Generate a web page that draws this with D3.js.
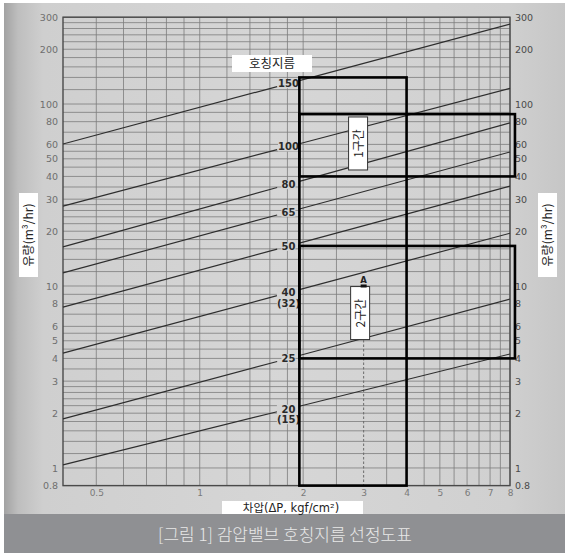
<!DOCTYPE html>
<html><head><meta charset="utf-8">
<script src="https://cdn.jsdelivr.net/npm/d3@7"></script>
<style>html,body{margin:0;padding:0;background:#fff;}svg{display:block;}</style>
</head><body><svg id="c" width="565" height="555"></svg>
<script>
// ---- data ----
const sizeLabels = ["150", "100", "80", "65", "50", "40", "25", "20"];
const sizeSubLabels = ["", "", "", "", "", "(32)", "", "(15)"];
const flowAtMinDp = [60.3, 27.5, 16.4, 11.8, 7.66, 4.28, 1.86, 1.04];   // Q at ΔP = 0.4
const flowAtMaxDp = [275, 122, 78.7, 54.5, 35.4, 19.5, 8.48, 4.23];     // Q at ΔP = 8
const dpDomain = [0.4, 8];
const flowDomain = [0.8, 300];
const xTickValues = [0.5, 1, 2, 3, 4, 5, 6, 7, 8];
const yTickValues = [0.8, 1, 2, 3, 4, 5, 6, 8, 10, 20, 30, 40, 50, 60, 80, 100, 200, 300];
const xGridValues = [0.5, 0.6, 0.7, 0.8, 0.9, 1, 1.2, 1.4, 1.6, 1.8, 2, 2.5, 3.5, 4, 4.5, 5, 5.5, 6, 6.5, 7, 7.5, 8];
const yGridValues = [0.8, 1, 1.2, 1.4, 1.6, 1.8, 2, 2.2, 2.4, 2.6, 2.8, 3, 3.5, 4, 4.5, 5, 5.5, 6, 7, 8, 9,
  10, 12, 14, 16, 18, 20, 22, 24, 26, 28, 30, 35, 40, 45, 50, 55, 60, 70, 80, 90,
  100, 120, 140, 160, 180, 200, 220, 240, 260, 280, 300];
const labelDp = 1.8;               // where size labels sit
const lineGap = [1.68, 1.95];      // lines interrupted around the labels
const zoneA = { dp: [1.95, 4], q: [0.8, 140] };
const zones = [
  { label: "1구간", dp: [1.95, 8.27], q: [40, 88], labelAt: [2.89, 60.7] },
  { label: "2구간", dp: [1.95, 8.27], q: [4, 16.6], labelAt: [2.93, 7.1] }
];
const pointA = { name: "A", dp: 3, q: 10 };
const title = "호칭지름";
const xTitle = "차압(ΔP, kgf/cm²)";
const yTitle = "유량(m³/hr)";
const caption = "[그림 1] 감압밸브 호칭지름 선정도표";

// ---- drawing ----
const svg = d3.select("#c");
const W = 565, H = 555;
const defs = svg.append("defs");
const g1 = defs.append("linearGradient").attr("id", "bg").attr("x1", 0).attr("x2", 1).attr("y1", 0).attr("y2", 0);
[[0, "#a2a2a2"], [0.025, "#bebebe"], [0.07, "#cfcfcf"], [0.5, "#d6d6d6"], [0.9, "#d0d0d0"], [1, "#c6c6c6"]]
  .forEach(([o, c]) => g1.append("stop").attr("offset", o).attr("stop-color", c));

svg.append("rect").attr("x", 4).attr("y", 3).attr("width", W - 4).attr("height", 511).attr("fill", "url(#bg)");
svg.append("rect").attr("x", 4).attr("y", 514).attr("width", W - 4).attr("height", 39).attr("fill", "#8f9093");

const x = d3.scaleLog().domain(dpDomain).range([63, 510]);
const y = d3.scaleLog().domain(flowDomain).range([485.6, 17.2]);
const [x0, x1] = x.range();
const [yb, yt] = y.range();

const plot = svg.append("g");

// grid
plot.append("g").selectAll("line").data(yGridValues).join("line")
  .attr("x1", x0).attr("x2", x1).attr("y1", d => y(d)).attr("y2", d => y(d))
  .attr("stroke", "#7c7c7c").attr("stroke-width", 0.8);
plot.append("g").selectAll("line").data(xGridValues).join("line")
  .attr("x1", d => x(d)).attr("x2", d => x(d)).attr("y1", yt).attr("y2", yb)
  .attr("stroke", "#7c7c7c").attr("stroke-width", 0.8);
plot.append("rect").attr("x", x0).attr("y", yt).attr("width", x1 - x0).attr("height", yb - yt)
  .attr("fill", "none").attr("stroke", "#4a4a4a").attr("stroke-width", 1.4);

// dotted line from A
plot.append("line").attr("x1", x(pointA.dp)).attr("x2", x(pointA.dp)).attr("y1", y(pointA.q)).attr("y2", yb)
  .attr("stroke", "#6a6a6a").attr("stroke-width", 1).attr("stroke-dasharray", "2.5,2");

// size lines
const lineGen = d3.line().x(d => x(d[0])).y(d => y(d[1]));
sizeLabels.forEach((lab, i) => {
  const q0 = flowAtMinDp[i], q1 = flowAtMaxDp[i];
  const k = Math.log(q1 / q0) / Math.log(dpDomain[1] / dpDomain[0]);
  const q = dp => q0 * Math.pow(dp / dpDomain[0], k);
  const segs = [[dpDomain[0], lineGap[0]], [lineGap[1], dpDomain[1]]];
  segs.forEach(([a, b]) => {
    plot.append("path").attr("d", lineGen([[a, q(a)], [b, q(b)]]))
      .attr("fill", "none").attr("stroke", "#2e2e2e").attr("stroke-width", 1.2);
  });
  const ly = y(q(labelDp));
  const lg = plot.append("g");
  const bgR = lg.append("rect").attr("fill", "#d4d4d4");
  const t = lg.append("text").attr("x", x(labelDp) + 1).attr("y", ly + 3.5)
    .attr("text-anchor", "middle").attr("font-family", "DejaVu Sans, sans-serif")
    .attr("font-size", 10).attr("font-weight", "bold").attr("fill", "#2a2a2a").text(lab);
  if (sizeSubLabels[i]) {
    lg.append("text").attr("x", x(labelDp) + 1).attr("y", ly + 14)
      .attr("text-anchor", "middle").attr("font-family", "DejaVu Sans, sans-serif")
      .attr("font-size", 10).attr("font-weight", "bold").attr("fill", "#2a2a2a").text(sizeSubLabels[i]);
  }
  const bb = lg.node().getBBox();
  bgR.attr("x", bb.x).attr("y", bb.y + 1).attr("width", bb.width).attr("height", bb.height - 2);
});

// axes tick labels
const left = d3.axisLeft(y).tickValues(yTickValues).tickFormat(d => String(d)).tickSize(0).tickPadding(5);
const gl = plot.append("g").attr("transform", `translate(${x0},0)`).call(left);
gl.select(".domain").remove();
gl.selectAll("text").attr("font-family", "DejaVu Sans, sans-serif").attr("font-size", 9.5).attr("fill", "#6e6e6e");
const right = d3.axisRight(y).tickValues(yTickValues).tickFormat(d => String(d)).tickSize(0).tickPadding(5);
const gr = plot.append("g").attr("transform", `translate(${x1},0)`).call(right);
gr.select(".domain").remove();
gr.selectAll("text").attr("font-family", "DejaVu Sans, sans-serif").attr("font-size", 9.5).attr("fill", "#4a4a4a");
const bottom = d3.axisBottom(x).tickValues(xTickValues).tickFormat(d => String(d)).tickSize(0).tickPadding(4);
const gbx = plot.append("g").attr("transform", `translate(0,${yb})`).call(bottom);
gbx.select(".domain").remove();
gbx.selectAll("text").attr("font-family", "DejaVu Sans, sans-serif").attr("font-size", 9).attr("fill", "#7a7a7a");

// zone boxes
plot.append("rect").attr("x", x(zoneA.dp[0])).attr("y", y(zoneA.q[1]))
  .attr("width", x(zoneA.dp[1]) - x(zoneA.dp[0])).attr("height", y(zoneA.q[0]) - y(zoneA.q[1]))
  .attr("fill", "none").attr("stroke", "#000").attr("stroke-width", 2.6);
zones.forEach(z => {
  plot.append("rect").attr("x", x(z.dp[0])).attr("y", y(z.q[1]))
    .attr("width", x(z.dp[1]) - x(z.dp[0])).attr("height", y(z.q[0]) - y(z.q[1]))
    .attr("fill", "none").attr("stroke", "#000").attr("stroke-width", 2.6);
});
zones.forEach(z => {
  const cx = x(z.labelAt[0]), cy = y(z.labelAt[1]);
  plot.append("rect").attr("x", cx - 9.5).attr("y", cy - 26.5).attr("width", 19).attr("height", 53)
    .attr("fill", "#fff").attr("stroke", "#333").attr("stroke-width", 1);
  plot.append("text").attr("transform", `translate(${cx + 4.5},${cy}) rotate(-90)`)
    .attr("text-anchor", "middle").attr("font-family", "Noto Sans CJK KR, sans-serif")
    .attr("font-size", 12).attr("fill", "#222").text(z.label);
});

// point A
plot.append("rect").attr("x", x(pointA.dp) - 3).attr("y", y(pointA.q) - 1.5).attr("width", 6).attr("height", 3).attr("fill", "#111");
plot.append("text").attr("x", x(pointA.dp)).attr("y", y(pointA.q) - 3)
  .attr("text-anchor", "middle").attr("font-family", "DejaVu Sans, sans-serif").attr("font-size", 8.5)
  .attr("font-weight", "bold").attr("fill", "#222").text(pointA.name);

// title box
svg.append("rect").attr("x", 232).attr("y", 55).attr("width", 80).attr("height", 17).attr("fill", "#fff");
svg.append("text").attr("x", 272).attr("y", 68).attr("text-anchor", "middle")
  .attr("font-family", "Noto Sans CJK KR, sans-serif").attr("font-size", 12.5).attr("fill", "#222").text(title);

// x title
svg.append("rect").attr("x", 222).attr("y", 501).attr("width", 141).attr("height", 13).attr("fill", "#fff");
svg.append("text").attr("x", 291).attr("y", 512).attr("text-anchor", "middle")
  .attr("font-family", "DejaVu Sans, Noto Sans CJK KR, sans-serif").attr("font-size", 11.5).attr("fill", "#222").text(xTitle);

// y titles
[[19, 28.5], [538, 547.5]].forEach(([bx, tx]) => {
  svg.append("rect").attr("x", bx).attr("y", 193).attr("width", 19).attr("height", 84).attr("fill", "#fff");
  svg.append("text").attr("transform", `translate(${tx + 4.5},235) rotate(-90)`).attr("text-anchor", "middle")
    .attr("font-family", "Noto Sans CJK KR, sans-serif").attr("font-size", 12).attr("fill", "#222").text(yTitle);
});

// caption
svg.append("text").attr("x", 285).attr("y", 541).attr("text-anchor", "middle")
  .attr("font-family", "Noto Sans CJK KR, sans-serif").attr("font-weight", 300).attr("font-size", 17)
  .attr("fill", "#e8e8e8").text(caption);
</script></body></html>
